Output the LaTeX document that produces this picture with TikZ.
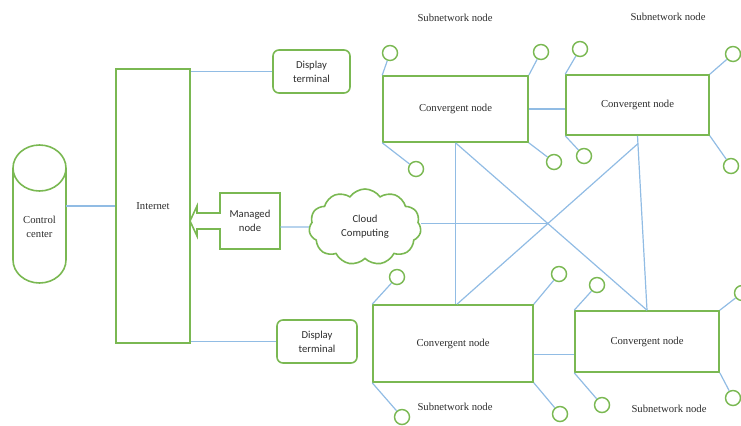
\documentclass[tikz,border=0pt]{standalone}
\usepackage{fontspec}
\setmainfont{Liberation Serif}
\newfontfamily\calib{Carlito}
\usetikzlibrary{shapes.symbols,calc}

\definecolor{boxgreen}{RGB}{122,184,82}
\definecolor{linkblue}{RGB}{145,188,228}
\definecolor{txt}{RGB}{45,45,45}

\begin{document}
\begin{tikzpicture}[x=0.75pt,y=-0.75pt,
  sized/.style 2 args={minimum width=#1*0.75pt, minimum height=#2*0.75pt, inner sep=0pt},
  gbox/.style={draw=boxgreen, line width=1.2pt},
  serif/.style={font=\fontsize{8}{10.5}\selectfont, text=txt, align=center},
  sans/.style={font=\calib\fontsize{8}{10.5}\selectfont, text=txt, align=center},
  conv/.style={gbox, serif},
  sat/.style={draw=boxgreen, line width=1.1pt, circle, minimum size=15*0.75pt, inner sep=0pt},
  link/.style={draw=linkblue, line width=0.9pt},
]
\useasboundingbox (0,0) rectangle (741,425);

% control centre drawn as a cylinder
\draw[gbox] (13,168) -- (13,260) arc[start angle=180, end angle=0, x radius=26.5, y radius=23] -- (66,168);
\draw[gbox] (39.5,168) ellipse [x radius=26.5, y radius=23];
\node[serif, sized={53}{30}] (cc) at (39.5,227) {Control\\center};

% internet backbone and terminals
\node[gbox, serif, sized={74}{274}] (inet) at (153,206) {Internet};
\node[gbox, sans, rounded corners=4.5pt, sized={77}{43}] (dt1) at (311.5,71.5) {Display\\terminal};
\node[gbox, sans, rounded corners=4.5pt, sized={80}{43}] (dt2) at (317,341.5) {Display\\terminal};

% managed node with its arrow into the internet box
\draw[gbox, line join=miter] (280,193) -- (220,193) -- (220,213) -- (197,213) -- (197,206)
  -- (190,221) -- (197,236) -- (197,229) -- (220,229) -- (220,249) -- (280,249) -- cycle;
\node[sans, sized={60}{56}] (mn) at (250,221) {Managed\\node};

% cloud
\node[cloud, gbox, sans, cloud puffs=11, cloud puff arc=110, aspect=1.45,
  sized={112}{76}] (cl) at (365,227) {Cloud\\Computing};

% convergent nodes
\node[conv, sized={145}{66}] (cn1) at (455.5,109) {Convergent node};
\node[conv, sized={143}{60}] (cn2) at (637.5,105) {Convergent node};
\node[conv, sized={160}{77}] (cn3) at (453,343.5) {Convergent node};
\node[conv, sized={144}{61}] (cn4) at (647,341.5) {Convergent node};

% subnetwork labels
\node[serif] (sn1) at (455,18) {Subnetwork node};
\node[serif] (sn2) at (668,17) {Subnetwork node};
\node[serif] (sn3) at (455,407) {Subnetwork node};
\node[serif] (sn4) at (669,409) {Subnetwork node};

% subnetwork nodes around each convergent node
\foreach \n/\p/\c in {
  a1/{390,53}/cn1.north west, a2/{541,52}/cn1.north east,
  a3/{416,169}/cn1.south west, a4/{554,162}/cn1.south east,
  b1/{580,49}/cn2.north west, b2/{733,54}/cn2.north east,
  b3/{584,156}/cn2.south west, b4/{731,166}/cn2.south east,
  c1/{397,277}/cn3.north west, c2/{559,274}/cn3.north east,
  c3/{402,417}/cn3.south west, c4/{560,414}/cn3.south east,
  d1/{597,285}/cn4.north west, d2/{742,293}/cn4.north east,
  d3/{602,405}/cn4.south west, d4/{733,398}/cn4.south east} {
  \node[sat] (\n) at (\p) {};
  \draw[link] (\n) -- (\c);
}

% links on the left side
\draw[link] (cc.east |- inet.west) -- (inet.west);
\draw[link] (inet.east |- dt1.west) -- (dt1.west);
\draw[link] (inet.east |- dt2.west) -- (dt2.west);
\draw[link] ($(mn.east)+(0,6)$) -- (cl.west);

% mesh between convergent nodes
\coordinate (ta) at ($(cn2.south)!0.045!(cn4.north)$);
\coordinate (tb) at ($(cn3.north)+(4,0)$);
\coordinate (xc) at (intersection of cn1.south--cn4.north and ta--tb);
\draw[link] (cn1.south) -- (cn1.south |- cn3.north);
\draw[link] (cn1.south) -- (cn4.north);
\draw[link] (cn2.south) -- (cn4.north);
\draw[link] (ta) -- (tb);
\draw[link] (cl.east |- xc) -- (xc);
\draw[link] (cn1.east) -- (cn1.east -| cn2.west);
\coordinate (c3r) at ($(cn3.east)+(0,11)$);
\draw[link] (c3r) -- (c3r -| cn4.west);
\end{tikzpicture}
\end{document}
